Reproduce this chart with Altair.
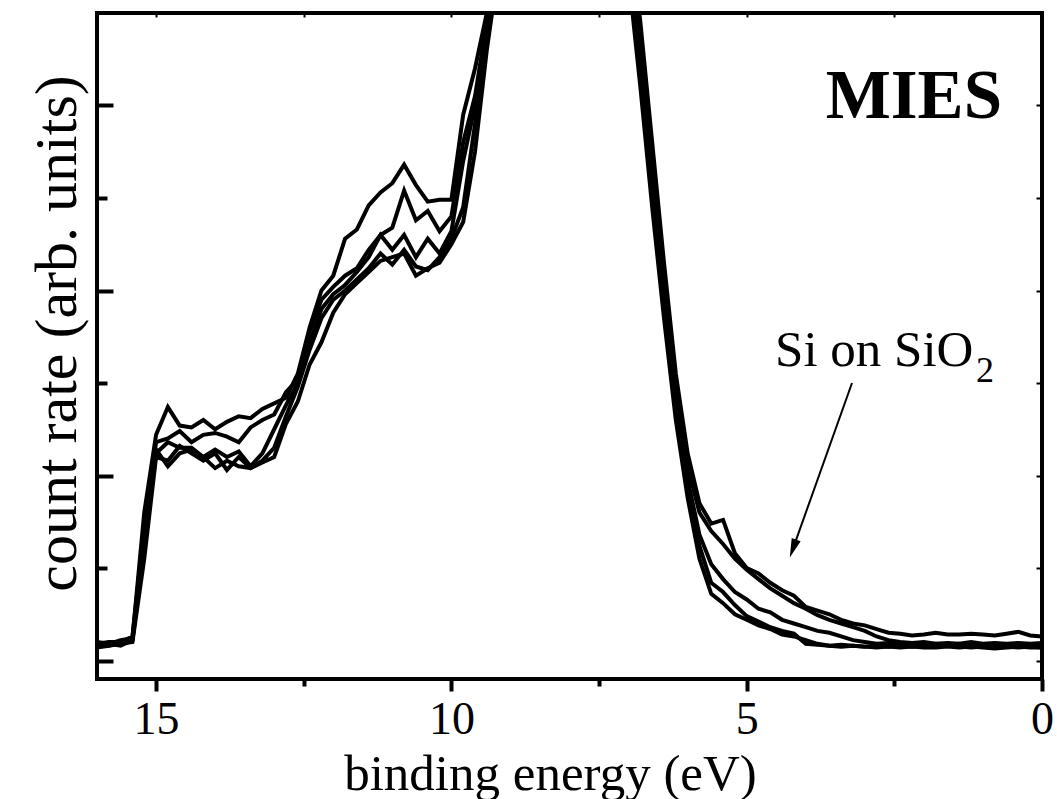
import altair as alt
import pandas as pd

# ---------------- data ----------------
energy = [16.0, 15.8, 15.6, 15.4, 15.2, 15.0, 14.8, 14.6, 14.4, 14.2,
          14.0, 13.8, 13.6, 13.4, 13.2, 13.0, 12.8, 12.6, 12.4, 12.2,
          12.0, 11.8, 11.6, 11.4, 11.2, 11.0, 10.8, 10.6, 10.4, 10.2,
          10.0, 9.8, 9.6, 9.4, 9.2, 9.0, 8.8, 8.6, 8.4, 8.2,
          8.0, 7.8, 7.6, 7.4, 7.2, 7.0, 6.8, 6.6, 6.4, 6.2,
          6.0, 5.8, 5.6, 5.4, 5.2, 5.0, 4.8, 4.6, 4.4, 4.2,
          4.0, 3.8, 3.6, 3.4, 3.2, 3.0, 2.8, 2.6, 2.4, 2.2,
          2.0, 1.8, 1.6, 1.4, 1.2, 1.0, 0.8, 0.6, 0.4, 0.2, 0.0]

spectrum_1 = [0.10, 0.09, 0.11, 0.12,
              0.80, 1.22, 1.37, 1.27, 1.26, 1.30, 1.25, 1.29, 1.32, 1.31,
              1.36, 1.39, 1.42, 1.55, 1.80, 2.00, 2.08, 2.28, 2.33, 2.46,
              2.53, 2.58, 2.68, 2.57, 2.48, 2.49, 2.49, 2.95, 3.20, 3.50,
              3.95,
              5.0, 5.0, 5.0, 5.0, 5.0, 5.0, 5.0, 5.0, 5.0, 5.0,
              4.0, 3.45, 2.8, 2.15, 1.55, 1.12,
              0.85, 0.74, 0.76, 0.58, 0.50, 0.47, 0.42, 0.38, 0.35, 0.29,
              0.27, 0.25, 0.22, 0.20, 0.19, 0.17, 0.15, 0.145, 0.135, 0.14,
              0.15, 0.14, 0.14, 0.145, 0.14, 0.135, 0.145, 0.155, 0.135, 0.13]

spectrum_2 = [0.09, 0.10, 0.10, 0.13,
              0.72, 1.18, 1.20, 1.24, 1.18, 1.22, 1.23, 1.21, 1.18, 1.26,
              1.30, 1.33, 1.45, 1.52, 1.78, 1.95, 2.02, 2.08, 2.12, 2.22,
              2.30, 2.34, 2.54, 2.38, 2.43, 2.32, 2.40, 2.80, 3.05, 3.45,
              3.90,
              5.0, 5.0, 5.0, 5.0, 5.0, 5.0, 5.0, 5.0, 5.0, 5.0,
              3.9, 3.35, 2.7, 2.08, 1.48, 1.05,
              0.80, 0.70, 0.63, 0.55, 0.49, 0.44, 0.39, 0.35, 0.31, 0.28,
              0.245, 0.22, 0.20, 0.18, 0.16, 0.13, 0.11, 0.10, 0.095, 0.10,
              0.09, 0.095, 0.09, 0.10, 0.09, 0.095, 0.09, 0.095, 0.09, 0.095]

spectrum_3 = [0.08, 0.09, 0.08, 0.11,
              0.62, 1.12, 1.18, 1.15, 1.15, 1.10, 1.14, 1.10, 1.13, 1.05,
              1.12, 1.25, 1.38, 1.50, 1.72, 1.90, 1.98, 2.03, 2.10, 2.18,
              2.30, 2.22, 2.30, 2.18, 2.28, 2.20, 2.32, 2.70, 3.00, 3.40,
              3.85,
              5.0, 5.0, 5.0, 5.0, 5.0, 5.0, 5.0, 5.0, 5.0, 5.0,
              3.8, 3.25, 2.6, 2.0, 1.42, 0.98,
              0.68, 0.52, 0.44, 0.37, 0.33, 0.28, 0.26, 0.22, 0.20, 0.18,
              0.16, 0.15, 0.13, 0.11, 0.10, 0.09, 0.095, 0.085, 0.09, 0.085,
              0.09, 0.085, 0.09, 0.08, 0.085, 0.09, 0.085, 0.08, 0.085, 0.08]

spectrum_4 = [0.07, 0.08, 0.09, 0.10,
              0.55, 1.10, 1.08, 1.16, 1.12, 1.08, 1.12, 1.03, 1.10, 1.04,
              1.08, 1.15, 1.32, 1.48, 1.68, 1.85, 1.95, 2.00, 2.06, 2.12,
              2.20, 2.14, 2.22, 2.13, 2.11, 2.18, 2.28, 2.45, 2.90, 3.35,
              3.80,
              5.0, 5.0, 5.0, 5.0, 5.0, 5.0, 5.0, 5.0, 5.0, 5.0,
              3.75, 3.15, 2.5, 1.92, 1.35, 0.92,
              0.62, 0.42, 0.37, 0.30, 0.24, 0.21, 0.18, 0.16, 0.145, 0.09,
              0.085, 0.08, 0.085, 0.08, 0.075, 0.08, 0.075, 0.08, 0.075, 0.08,
              0.075, 0.08, 0.075, 0.07, 0.075, 0.08, 0.075, 0.07, 0.075, 0.07]

spectrum_5 = [0.09, 0.08, 0.10, 0.11,
              0.65, 1.14, 1.05, 1.12, 1.14, 1.10, 1.04, 1.08, 1.05, 1.04,
              1.07, 1.10, 1.28, 1.40, 1.60, 1.72, 1.88, 1.98, 2.04, 2.10,
              2.16, 2.18, 2.20, 2.08, 2.12, 2.15, 2.25, 2.37, 2.75, 3.30,
              3.75,
              5.0, 5.0, 5.0, 5.0, 5.0, 5.0, 5.0, 5.0, 5.0, 5.0,
              3.7, 3.1, 2.45, 1.85, 1.3, 0.88,
              0.55, 0.36, 0.31, 0.25, 0.22, 0.19, 0.17, 0.14, 0.13, 0.11,
              0.09, 0.08, 0.075, 0.08, 0.075, 0.07, 0.075, 0.07, 0.075, 0.07,
              0.07, 0.075, 0.07, 0.075, 0.07, 0.065, 0.07, 0.075, 0.07, 0.07]

x_major_ticks = [15, 10, 5, 0]
x_minor_ticks = [12.5, 7.5, 2.5]
x_top_ticks = [15, 12.5, 10, 7.5, 5, 2.5]
y_major_ticks = [0, 1, 2, 3]
y_minor_ticks = [0.5, 1.5, 2.5]
y_right_ticks = [0, 0.5, 1, 1.5, 2, 2.5, 3]

# arrow: start (energy, count) -> head
arrow_start = [3.217, 1.50]
arrow_head = [4.216, 0.605]

title_label = ["MIES", 0.677, 2.932]
sample_label = ["Si on SiO", 4.52, 1.592]
sample_sub = ["2", 1.117, 1.505]

# ---------------- table ----------------
spectra = {"1": spectrum_1, "2": spectrum_2, "3": spectrum_3,
           "4": spectrum_4, "5": spectrum_5}
rows = []
for name, vals in spectra.items():
    for e, v in zip(energy, vals):
        rows.append({"curve": name, "energy": e, "count": v})
df = pd.DataFrame(rows)

W, H = 945, 666
FONT = "Liberation Serif"
xscale = alt.Scale(domain=[0, 16], reverse=True, nice=False, zero=False)
yscale = alt.Scale(domain=[-0.1, 3.5], nice=False, zero=False)

lines = alt.Chart(df).mark_line(color="black", strokeWidth=4, clip=True).encode(
    x=alt.X("energy:Q", scale=xscale,
            axis=alt.Axis(orient="bottom", values=x_major_ticks, format="d",
                          tickSize=12, tickWidth=4, tickColor="black",
                          domain=False, grid=False, labelFlush=False,
                          labelFont=FONT, labelFontSize=46, labelColor="black",
                          labelBaseline="alphabetic", labelPadding=42,
                          title="binding energy (eV)", titleFont=FONT,
                          titleFontSize=51, titleFontWeight="normal",
                          titleColor="black", titleX=453, titleY=110,
                          titleBaseline="alphabetic")),
    y=alt.Y("count:Q", scale=yscale,
            axis=alt.Axis(orient="left", ticks=False, labels=False, domain=False,
                          grid=False, title="count rate (arb. units)",
                          titleFont=FONT, titleFontSize=60,
                          titleFontWeight="normal", titleColor="black",
                          titleX=-22, titleY=320, titleBaseline="alphabetic")),
    detail="curve:N",
)

anchor = pd.DataFrame({"energy": [8.0], "count": [1.0]})


def x_ticks(values, size, width, orient, offset):
    return alt.Chart(anchor).mark_point(opacity=0).encode(
        x=alt.X("energy:Q", scale=xscale,
                axis=alt.Axis(orient=orient, offset=offset, values=values,
                              tickSize=size, tickWidth=width, tickColor="black",
                              labels=False, domain=False, grid=False, title=None)),
        y=alt.Y("count:Q", scale=yscale, axis=None),
    )


def y_ticks(values, size, width, orient, offset):
    return alt.Chart(anchor).mark_point(opacity=0).encode(
        x=alt.X("energy:Q", scale=xscale, axis=None),
        y=alt.Y("count:Q", scale=yscale,
                axis=alt.Axis(orient=orient, offset=offset, values=values,
                              tickSize=size, tickWidth=width, tickColor="black",
                              labels=False, domain=False, grid=False, title=None)),
    )


minor_x = x_ticks(x_minor_ticks, 7, 4, "bottom", 0)
top_x = x_ticks(x_top_ticks, 4, 2, "bottom", -H)
left_major = y_ticks(y_major_ticks, 16, 4, "right", -W)
left_minor = y_ticks(y_minor_ticks, 10, 4, "right", -W)
right_in = y_ticks(y_right_ticks, 6, 2, "left", -W)

arrow_df = pd.DataFrame({"e1": [arrow_start[0]], "c1": [arrow_start[1]],
                         "e2": [arrow_head[0]], "c2": [arrow_head[1]]})
arrow_line = alt.Chart(arrow_df).mark_rule(color="black", strokeWidth=2).encode(
    x=alt.X("e1:Q", scale=xscale, axis=None),
    y=alt.Y("c1:Q", scale=yscale, axis=None),
    x2="e2:Q", y2="c2:Q",
)
arrow_tip = alt.Chart(arrow_df).mark_point(
    shape="M 0 -1 L 0.5 1 L -0.5 1 Z", filled=True, color="black",
    opacity=1, size=361, angle=199.6, strokeWidth=0,
).encode(
    x=alt.X("e2:Q", scale=xscale, axis=None),
    y=alt.Y("c2:Q", scale=yscale, axis=None),
)


def label(item, size, weight, align):
    d = pd.DataFrame({"t": [item[0]], "energy": [item[1]], "count": [item[2]]})
    return alt.Chart(d).mark_text(font=FONT, fontSize=size, fontWeight=weight,
                                  align=align, baseline="alphabetic",
                                  color="black").encode(
        x=alt.X("energy:Q", scale=xscale, axis=None),
        y=alt.Y("count:Q", scale=yscale, axis=None),
        text="t:N",
    )


mies = label(title_label, 69, "bold", "right")
sample = label(sample_label, 51, "normal", "left")
sub = label(sample_sub, 36, "normal", "left")

chart = alt.layer(
    lines, minor_x, top_x, left_major, left_minor, right_in,
    arrow_line, arrow_tip, mies, sample, sub,
).resolve_axis(x="independent", y="independent").properties(
    width=W, height=H,
    autosize=alt.AutoSizeParams(type="none"),
    padding={"left": 97, "top": 13, "right": 15, "bottom": 120},
    background="white",
).configure_view(stroke="black", strokeWidth=4)

chart.save("out.html", embed_options={"renderer": "svg", "actions": False})
